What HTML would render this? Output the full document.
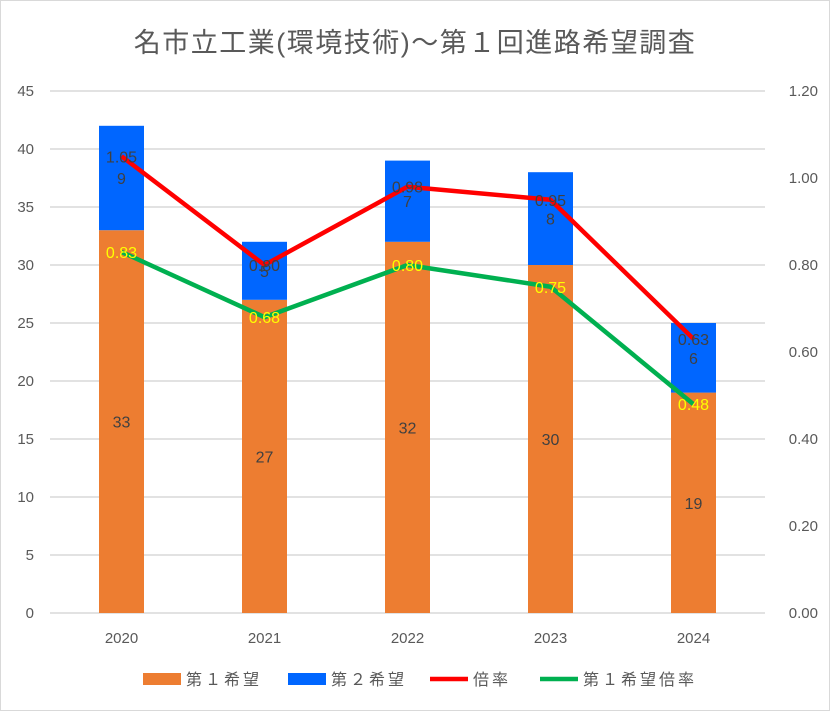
<!DOCTYPE html>
<html><head><meta charset="utf-8"><style>
body{margin:0;background:#fff}
svg{display:block;font-family:"Liberation Sans","Noto Sans CJK JP",sans-serif}
</style></head><body>
<svg id="c" width="830" height="711" viewBox="0 0 830 711">
<rect x="0.5" y="0.5" width="829" height="710" fill="#fff" stroke="#d9d9d9"/>
<text x="415" y="52" text-anchor="middle" font-size="27" letter-spacing="1.5" fill="#595959">名市立工業(環境技術)～第１回進路希望調査</text>
<g id="grid"></g><g id="bars"></g><g id="lines"></g><g id="labels"></g><g id="axes"></g>
<g id="legend"></g>
</svg>
<script>
const categories=["2020","2021","2022","2023","2024"];
const first=[33,27,32,30,19];
const second=[9,5,7,8,6];
const ratio=[1.05,0.80,0.98,0.95,0.63];
const firstRatio=[0.83,0.68,0.80,0.75,0.48];
const leftTicks=[0,5,10,15,20,25,30,35,40,45];
const rightTicks=["0.00","0.20","0.40","0.60","0.80","1.00","1.20"];
const NS="http://www.w3.org/2000/svg";
const L=50,R=765,T=91,B=613;
const yL=v=>B-(v/45)*(B-T);
const yR=v=>B-(v/1.2)*(B-T);
const cw=(R-L)/categories.length;
const xC=i=>L+cw*(i+0.5);
function mk(p,tag,a,txt){const e=document.createElementNS(NS,tag);for(const k in a)e.setAttribute(k,a[k]);if(txt!==undefined)e.textContent=txt;document.getElementById(p).appendChild(e);return e;}
leftTicks.forEach(t=>{
 const g=mk('grid','line',{x1:L,x2:R,y1:yL(t),y2:yL(t),stroke:'#d9d9d9','stroke-width':1.5});
 
 
 const e=mk('axes','text',{x:34,y:yL(t)+5,'text-anchor':'end','font-size':15,fill:'#595959'},t);
 
 
});
rightTicks.forEach(t=>{
 const e=mk('axes','text',{x:818,y:yR(+t)+5,'text-anchor':'end','font-size':15,fill:'#595959'},t);
 
 
});
const bw=45;
categories.forEach((c,i)=>{
 const x=xC(i)-bw/2;
 const b1=mk('bars','rect',{x:x,y:yL(first[i]),width:bw,height:B-yL(first[i]),fill:'#ed7d31'});
 
 
 const b2=mk('bars','rect',{x:x,y:yL(first[i]+second[i]),width:bw,height:yL(first[i])-yL(first[i]+second[i]),fill:'#0066ff'});
 
 
 const t1=mk('labels','text',{x:xC(i),y:(yL(first[i])+B)/2+6,'text-anchor':'middle','font-size':16,fill:'#404040'},first[i]);
 
 
 const t2=mk('labels','text',{x:xC(i),y:(yL(first[i])+yL(first[i]+second[i]))/2+6,'text-anchor':'middle','font-size':16,fill:'#404040'},second[i]);
 
 
 const xl=mk('axes','text',{x:xC(i),y:643,'text-anchor':'middle','font-size':15,fill:'#595959'},c);
 
 
});
function line(arr,color,name,lc){
 const p=mk('lines','polyline',{points:arr.map((v,i)=>xC(i)+','+yR(v)).join(' '),fill:'none',stroke:color,'stroke-width':4.5,'stroke-linejoin':'round'});
 
 
 arr.forEach((v,i)=>{
  const t=mk('labels','text',{x:xC(i),y:yR(v)+6,'text-anchor':'middle','font-size':16,fill:lc},v.toFixed(2));
  
  
 });
}
line(ratio,'#ff0000','ratio-line','#404040');
line(firstRatio,'#00b050','first-ratio-line','#ffff00');
const leg=[["第１希望","rect","#ed7d31",143],["第２希望","rect","#0066ff",288],["倍率","line","#ff0000",430],["第１希望倍率","line","#00b050",540]];
leg.forEach(l=>{
 let m;
 if(l[1]=="rect")m=mk('legend','rect',{x:l[3],y:673,width:38,height:12,fill:l[2]});
 else m=mk('legend','line',{x1:l[3],x2:l[3]+38,y1:679,y2:679,stroke:l[2],'stroke-width':4.5});
 
 
 const t=mk('legend','text',{x:l[3]+43,y:685,'font-size':16,'letter-spacing':3,fill:'#595959'},l[0]);
 
 
});
</script>
</body></html>
